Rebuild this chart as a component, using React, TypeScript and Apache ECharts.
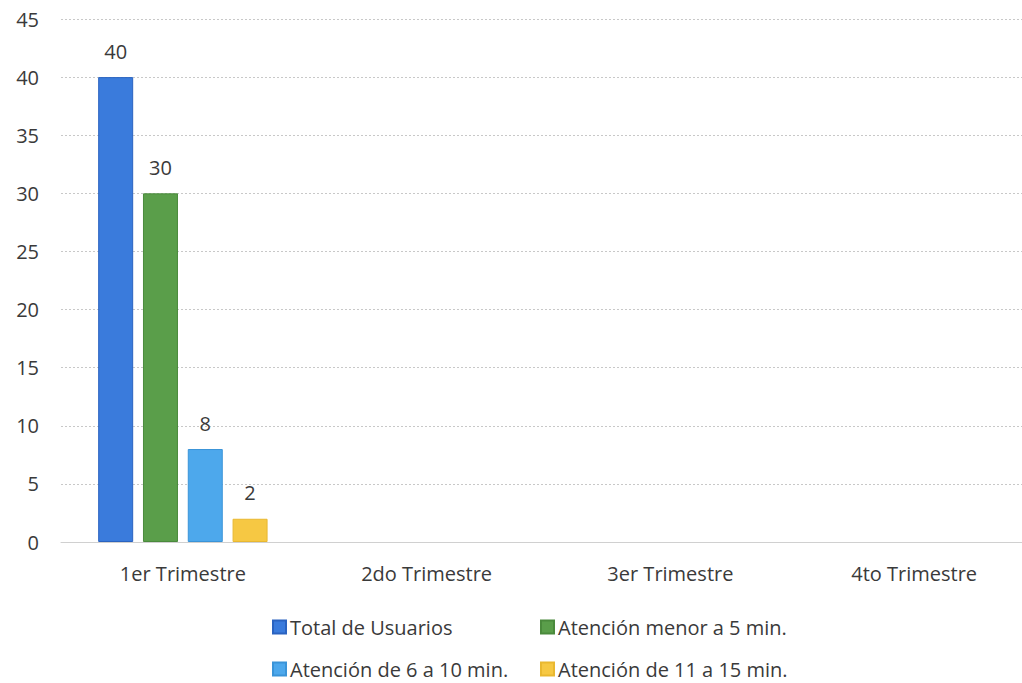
import React, { useEffect, useRef } from "react";
import * as echarts from "echarts";

const categories = ["1er Trimestre", "2do Trimestre", "3er Trimestre", "4to Trimestre"];
const seriesNames = [
  "Total de Usuarios",
  "Atención menor a 5 min.",
  "Atención de 6 a 10 min.",
  "Atención de 11 a 15 min.",
];
const totalUsuarios = [40, null, null, null];
const menor5 = [30, null, null, null];
const de6a10 = [8, null, null, null];
const de11a15 = [2, null, null, null];
const colors = ["#3a7bdc", "#5a9e4a", "#4da8ec", "#f6c843"];
const borders = ["#2a63c0", "#4a8a3c", "#3a94d8", "#e9b830"];

export default function App() {
  const ref = useRef<HTMLDivElement>(null);
  useEffect(() => {
    const chart = echarts.init(ref.current!, null, { renderer: "svg" });
    const values = [totalUsuarios, menor5, de6a10, de11a15];
    const font = "'Open Sans', 'Noto Sans', sans-serif";
    const legendPos = [
      { left: 272, top: 617 },
      { left: 540, top: 617 },
      { left: 272, top: 659 },
      { left: 540, top: 659 },
    ];
    chart.setOption({
      animation: false,
      backgroundColor: "#ffffff",
      textStyle: { fontFamily: font },
      grid: { left: 61, width: 975, top: 19, bottom: 141, outerBoundsMode: "none" },
      legend: seriesNames.map((n, i) => ({
        data: [n],
        left: legendPos[i].left,
        top: legendPos[i].top,
        padding: 0,
        itemWidth: 13,
        itemHeight: 13,
        itemGap: 5,
        icon: "rect",
        textStyle: { fontFamily: font, fontSize: 20, color: "#3a3a3a", padding: [0, 0, 0, -1] },
      })),
      xAxis: {
        type: "category",
        data: categories,
        axisLine: { show: true, lineStyle: { color: "#d0d0d0" } },
        axisTick: { show: false },
        axisLabel: { fontFamily: font, fontSize: 20, color: "#3a3a3a", margin: 21 },
      },
      yAxis: {
        type: "value",
        min: 0,
        max: 45,
        interval: 5,
        axisLine: { show: false },
        axisTick: { show: false },
        axisLabel: { fontFamily: font, fontSize: 20, color: "#3a3a3a", margin: 22 },
        splitLine: { lineStyle: { color: "#c8c8c8", type: [2, 2] } },
      },
      series: seriesNames.map((n, i) => ({
        name: n,
        type: "bar",
        data: values[i],
        barWidth: 35,
        barGap: "28%",
        itemStyle: { color: colors[i], borderColor: borders[i], borderWidth: 1 },
        label: {
          show: true,
          position: "top",
          distance: 16,
          fontFamily: font,
          fontSize: 20,
          color: "#3a3a3a",
        },
      })),
    });
    return () => chart.dispose();
  }, []);
  return <div ref={ref} style={{ width: 1022, height: 683, position: "absolute", left: 0, top: 0, overflow: "hidden" }} />;
}
